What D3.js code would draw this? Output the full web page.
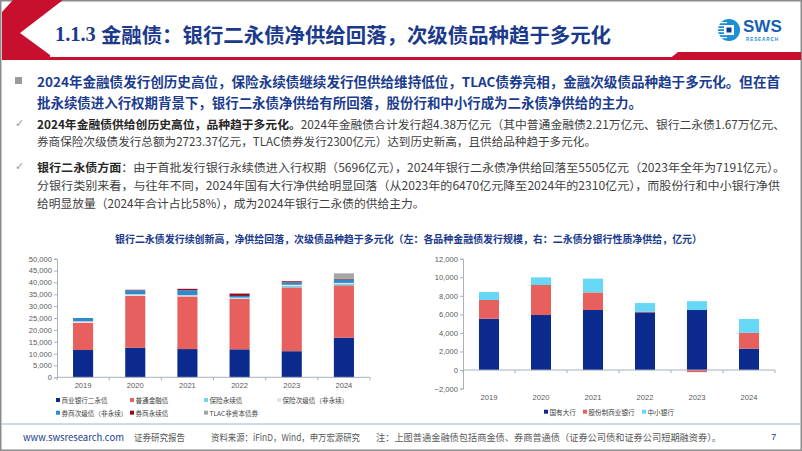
<!DOCTYPE html>
<html><head><meta charset="utf-8">
<script src="https://cdn.jsdelivr.net/npm/d3@7"></script>
<style>
html,body{margin:0;padding:0;background:#fff;}
svg{display:block;}
</style></head>
<body>
<svg id="c" width="802" height="451"></svg>
<script>
// ---------- data ----------
const years = ["2019","2020","2021","2022","2023","2024"];
// left chart: issuance by type (亿元)
const bankCapital = [11500,12500,11900,11800,11000,16700];   // 商业银行二永债
const ordinary    = [11500,21800,22200,21300,26900,22100];   // 普通金融债
const insPerp     = [0,0,0,200,700,700];                     // 保险永续债
const insSub      = [600,700,500,300,400,300];               // 保险次级债（非永续）
const brokerSub   = [1400,1700,2100,700,1000,1400];          // 券商次级债（非永续）
const brokerPerp  = [0,200,600,1000,500,323];                // 券商永续债
const tlac        = [0,0,0,0,0,2300];                        // TLAC非资本债券
const leftNames = ["商业银行二永债","普通金融债","保险永续债","保险次级债（非永续）","券商次级债（非永续）","券商永续债","TLAC非资本债券"];
const leftTicks = [0,5000,10000,15000,20000,25000,30000,35000,40000,45000,50000];
// right chart: net supply by bank type (亿元)
const stateBanks = [5530,5930,6470,6220,6470,2310];          // 国有大行
const jointStock = [2020,3235,1900,80,-230,1700];            // 股份制商业银行
const smallBanks = [860,825,1480,920,951,1495];              // 中小银行
const rightNames = ["国有大行","股份制商业银行","中小银行"];
const rightTicks = [-2000,0,2000,4000,6000,8000,10000,12000];

const leftColors = ["#0B2A8E","#E8605E","#6ED6F2","#E4E4E4","#2E8ACB","#8C1020","#A6A6A6"];
const rightColors = ["#0B2A8E","#E8605E","#66D7F5"];

const CJK = "'Noto Sans CJK SC','Noto Sans',sans-serif";
const NUM = "'Liberation Sans',Arial,sans-serif";
const svg = d3.select("#c");

// ---------- frame & header ----------
svg.append("rect").attr("x",0.75).attr("y",0.75).attr("width",800.5).attr("height",449.5)
  .attr("fill","#fff").attr("stroke","#8c8c8c").attr("stroke-width",1.5);
svg.append("polygon").attr("points","13,0 63,0 20,33 50,55 50,60 2,60 2,12").attr("fill","#C8102E");
svg.append("rect").attr("x",40).attr("y",57).attr("width",640).attr("height",3).attr("fill","#C8102E");
svg.append("polygon").attr("points","668,60 678,52 801,52 801,60").attr("fill","#C8102E");

const title = svg.append("text").attr("x",55).attr("y",34).attr("dominant-baseline","central")
  .attr("fill","#1B3A8C").attr("font-weight","700").attr("font-size",20).attr("font-family",CJK)
  .attr("textLength",556).attr("lengthAdjust","spacingAndGlyphs");
title.append("tspan").attr("font-family","'Liberation Serif',serif").text("1.1.3 ");
title.append("tspan").text("金融债：银行二永债净供给回落，次级债品种趋于多元化");

// logo
const logo = svg.append("g");
logo.append("circle").attr("cx",729).attr("cy",30).attr("r",11).attr("fill","#1C8FD6");
[22,25,28,31,34,37].forEach(y=>logo.append("rect").attr("x",718).attr("y",y).attr("width",9).attr("height",1.2).attr("fill","#fff"));
logo.append("rect").attr("x",724).attr("y",25).attr("width",10).attr("height",10).attr("fill","#fff");
logo.append("rect").attr("x",726.5).attr("y",27.5).attr("width",5).attr("height",5).attr("fill","#0E3C8C");
logo.append("text").attr("x",743).attr("y",32).attr("font-family",NUM).attr("font-weight","700")
  .attr("font-size",17).attr("fill","#1660B2").text("SWS");
logo.append("text").attr("x",746).attr("y",41).attr("font-family",NUM).attr("font-weight","700")
  .attr("font-size",4.6).attr("fill","#1C8FD6").attr("textLength",32).text("RESEARCH");

// ---------- bullet text ----------
function addLine(x,y,segs,size,width){
  const t = svg.append("text").attr("x",x).attr("y",y).attr("dominant-baseline","central")
    .attr("font-family",CJK).attr("font-size",size);
  segs.forEach(s=>t.append("tspan").attr("font-weight",s.b?"700":"400").attr("fill",s.c).text(s.t));
  if(width) t.attr("textLength",width).attr("lengthAdjust","spacingAndGlyphs");
  return t;
}
const NAVY="#1B3C8E", DK="#262626", GR="#404040";
svg.append("rect").attr("x",15).attr("y",77).attr("width",7).attr("height",7).attr("fill","#9a9a9a");
addLine(37,80.7,[{t:"2024年金融债发行创历史高位，保险永续债继续发行但供给维持低位，TLAC债券亮相，金融次级债品种趋于多元化。但在首",b:1,c:NAVY}],13.2,743);
addLine(37,101.7,[{t:"批永续债进入行权期背景下，银行二永债净供给有所回落，股份行和中小行成为二永债净供给的主力。",b:1,c:NAVY}],13.2,605);
[123.3,166].forEach(y=>svg.append("text").attr("x",15).attr("y",y).attr("dominant-baseline","central")
  .attr("font-family","'DejaVu Sans',sans-serif").attr("font-size",11).attr("fill","#9a9a9a").text("✓"));
addLine(37,123.3,[{t:"2024年金融债供给创历史高位，品种趋于多元化。",b:1,c:DK},{t:"2024年金融债合计发行超4.38万亿元（其中普通金融债2.21万亿元、银行二永债1.67万亿元、",b:0,c:GR}],11.8,748);
addLine(37,140,[{t:"券商保险次级债发行总额为2723.37亿元，TLAC债券发行2300亿元）达到历史新高，且供给品种趋于多元化。",b:0,c:GR}],11.8,559);
addLine(37,166,[{t:"银行二永债方面",b:1,c:DK},{t:"：由于首批发行银行永续债进入行权期（5696亿元），2024年银行二永债净供给回落至5505亿元（2023年全年为7191亿元）。",b:0,c:GR}],11.8,748);
addLine(37,184.3,[{t:"分银行类别来看，与往年不同，2024年国有大行净供给明显回落（从2023年的6470亿元降至2024年的2310亿元），而股份行和中小银行净供",b:0,c:GR}],11.8,743);
addLine(37,201.7,[{t:"给明显放量（2024年合计占比58%），成为2024年银行二永债的供给主力。",b:0,c:GR}],11.8,387.5);

// chart title
svg.append("text").attr("x",115).attr("y",238.5).attr("dominant-baseline","central")
  .attr("font-family",CJK).attr("font-weight","700").attr("font-size",10.5).attr("fill","#1B3A8C")
  .attr("textLength",587).attr("lengthAdjust","spacingAndGlyphs")
  .text("银行二永债发行续创新高，净供给回落，次级债品种趋于多元化（左：各品种金融债发行规模，右：二永债分银行性质净供给，亿元）");

// ---------- chart helper ----------
const AX="#A8B0BE", LBL="#595959";
function drawChart(opt){
  const x = d3.scaleBand().domain(years).range([opt.x0,opt.x1]).paddingInner(0.615).paddingOuter(0.3075);
  const y = d3.scaleLinear().domain(opt.yDomain).range([opt.yBottom,opt.yTop]);
  const rows = years.map((yr,i)=>{const r={year:yr}; opt.series.forEach((s,k)=>r["s"+k]=s[i]); return r;});
  const keys = opt.series.map((s,k)=>"s"+k);
  const stacked = d3.stack().keys(keys).offset(d3.stackOffsetDiverging)(rows);
  const g = svg.append("g");
  stacked.forEach((layer,k)=>{
    g.append("g").attr("fill",opt.colors[k]).selectAll("rect").data(layer.filter(d=>d[1]!==d[0])).join("rect")
      .attr("x",d=>x(d.data.year)).attr("width",x.bandwidth())
      .attr("y",d=>y(Math.max(d[0],d[1]))).attr("height",d=>Math.abs(y(d[0])-y(d[1])));
  });
  // y axis
  const ya = d3.axisLeft(y).tickValues(opt.ticks).tickFormat(d3.format(",")).tickSize(3).tickPadding(2);
  const yg = svg.append("g").attr("transform",`translate(${opt.x0},0)`).call(ya);
  yg.select(".domain").attr("stroke",AX);
  yg.selectAll(".tick line").attr("stroke",AX);
  yg.selectAll("text").attr("font-family",NUM).attr("font-size",7.6).attr("fill",LBL);
  // x axis line at zero
  const z = y(0);
  svg.append("line").attr("x1",opt.x0).attr("x2",opt.x1).attr("y1",z).attr("y2",z).attr("stroke",AX);
  const step = x.step();
  d3.range(7).forEach(i=>{
    const xx = opt.x0 + i*step;
    svg.append("line").attr("x1",xx).attr("x2",xx).attr("y1",z).attr("y2",z+3).attr("stroke",AX);
  });
  svg.append("g").selectAll("text").data(years).join("text")
    .attr("x",d=>x(d)+x.bandwidth()/2).attr("y",opt.labelY).attr("dominant-baseline","central")
    .attr("text-anchor","middle").attr("font-family",NUM).attr("font-size",7.6).attr("fill",LBL).text(d=>d);
  // legend
  opt.legend.forEach((p,k)=>{
    svg.append("rect").attr("x",p[0]).attr("y",p[1]-2).attr("width",4).attr("height",4).attr("fill",opt.colors[k]);
    svg.append("text").attr("x",p[0]+5.5).attr("y",p[1]).attr("dominant-baseline","central")
      .attr("font-family",CJK).attr("font-size",6.6).attr("fill","#404040").text(opt.names[k]);
  });
}

drawChart({
  x0:57,x1:370,yDomain:[0,50000],yBottom:377.3,yTop:258.7,ticks:leftTicks,
  series:[bankCapital,ordinary,insPerp,insSub,brokerSub,brokerPerp,tlac],
  colors:leftColors,names:leftNames,labelY:385.5,
  legend:[[56,400],[130,400],[204,400],[277,400],[56,412.7],[130,412.7],[204,412.7]]
});
drawChart({
  x0:463,x1:775,yDomain:[-2000,12000],yBottom:388.6,yTop:258.7,ticks:rightTicks,
  series:[stateBanks,jointStock,smallBanks],
  colors:rightColors,names:rightNames,labelY:397,
  legend:[[544,411.7],[583,411.7],[642,411.7]]
});

// ---------- footer ----------
svg.append("line").attr("x1",2).attr("x2",800).attr("y1",424).attr("y2",424).attr("stroke","#9DB3D6").attr("stroke-width",1);
const ft = (x,t,c,w)=>svg.append("text").attr("x",x).attr("y",436.7).attr("dominant-baseline","central")
  .attr("font-family",CJK).attr("font-size",9.5).attr("fill",c).attr("textLength",w).attr("lengthAdjust","spacingAndGlyphs").text(t);
ft(23,"www.swsresearch.com","#1B3C8E",101);
ft(134,"证券研究报告","#595959",51);
ft(211,"资料来源：iFinD，Wind，申万宏源研究","#595959",149);
ft(376,"注：上图普通金融债包括商金债、券商普通债（证券公司债和证券公司短期融资券）。","#595959",345);
svg.append("text").attr("x",771).attr("y",436.7).attr("dominant-baseline","central")
  .attr("font-family",NUM).attr("font-size",9.5).attr("fill","#1B3C8E").text("7");
</script>
</body></html>
